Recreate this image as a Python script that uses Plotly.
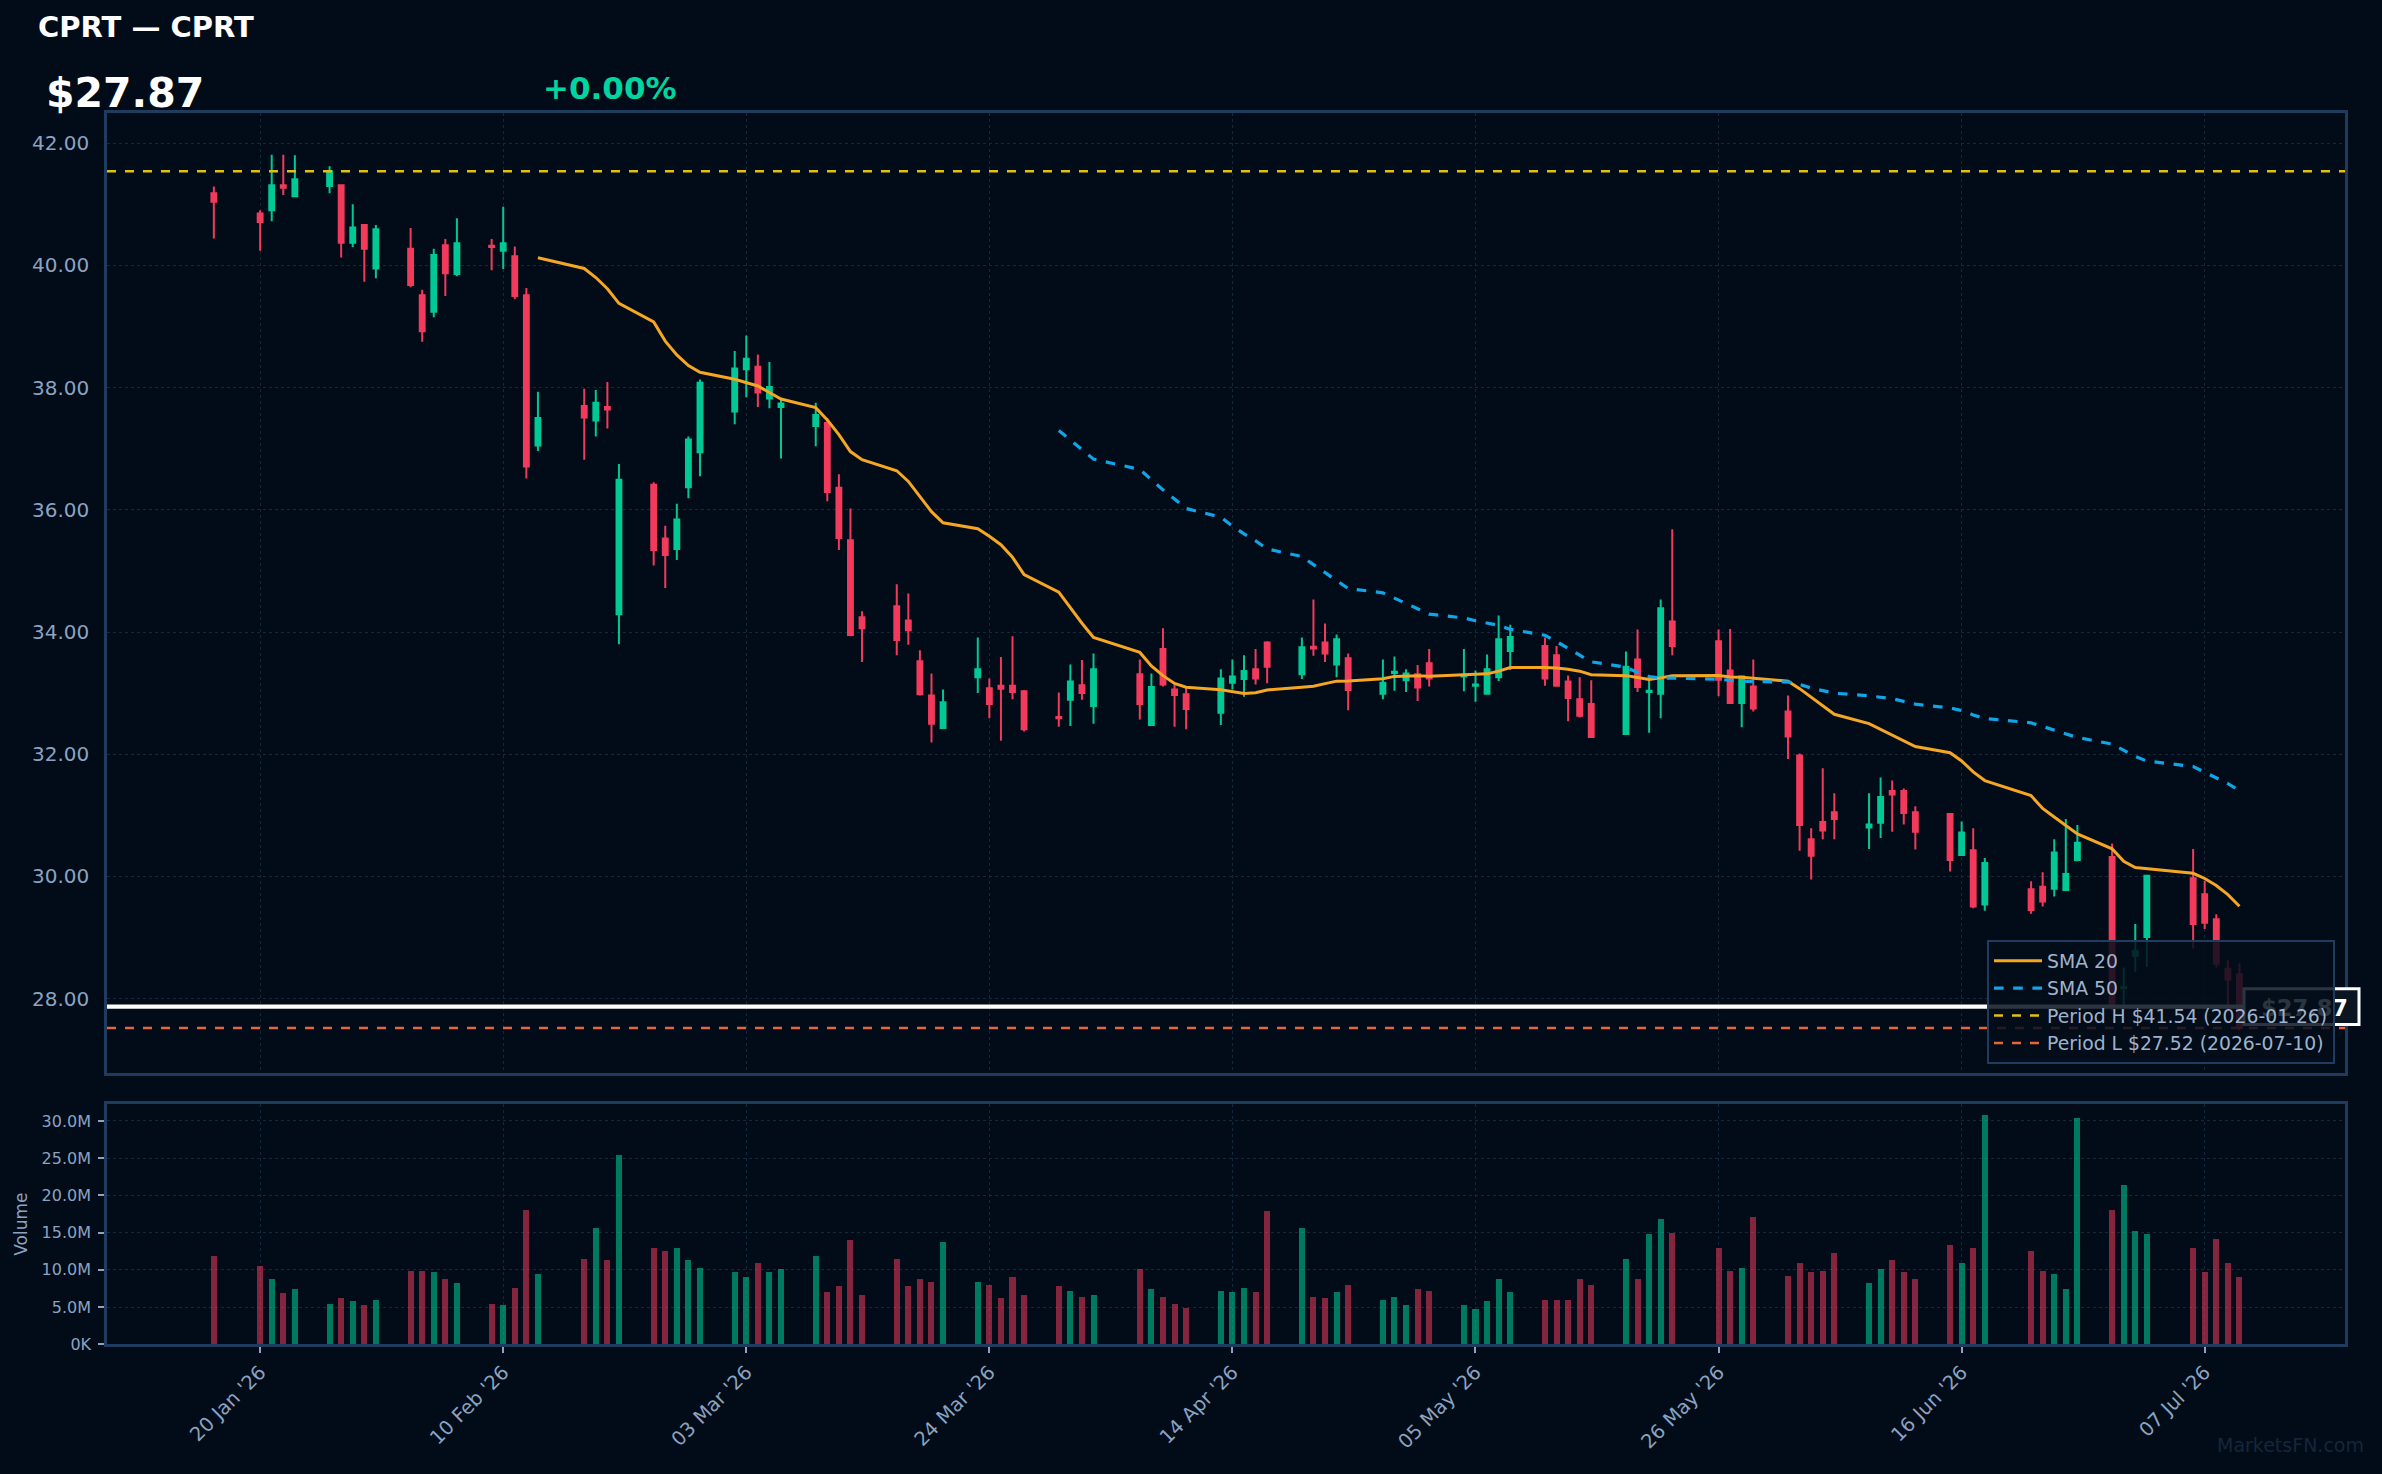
import plotly.graph_objects as go
import pandas as pd

# ---------------- data ----------------
dates = [
    "2026-01-16", "2026-01-20", "2026-01-21", "2026-01-22", "2026-01-23",
    "2026-01-26", "2026-01-27", "2026-01-28", "2026-01-29", "2026-01-30",
    "2026-02-02", "2026-02-03", "2026-02-04", "2026-02-05", "2026-02-06",
    "2026-02-09", "2026-02-10", "2026-02-11", "2026-02-12", "2026-02-13",
    "2026-02-17", "2026-02-18", "2026-02-19", "2026-02-20",
    "2026-02-23", "2026-02-24", "2026-02-25", "2026-02-26", "2026-02-27",
    "2026-03-02", "2026-03-03", "2026-03-04", "2026-03-05", "2026-03-06",
    "2026-03-09", "2026-03-10", "2026-03-11", "2026-03-12", "2026-03-13",
    "2026-03-16", "2026-03-17", "2026-03-18", "2026-03-19", "2026-03-20",
    "2026-03-23", "2026-03-24", "2026-03-25", "2026-03-26", "2026-03-27",
    "2026-03-30", "2026-03-31", "2026-04-01", "2026-04-02",
    "2026-04-06", "2026-04-07", "2026-04-08", "2026-04-09", "2026-04-10",
    "2026-04-13", "2026-04-14", "2026-04-15", "2026-04-16", "2026-04-17",
    "2026-04-20", "2026-04-21", "2026-04-22", "2026-04-23", "2026-04-24",
    "2026-04-27", "2026-04-28", "2026-04-29", "2026-04-30", "2026-05-01",
    "2026-05-04", "2026-05-05", "2026-05-06", "2026-05-07", "2026-05-08",
    "2026-05-11", "2026-05-12", "2026-05-13", "2026-05-14", "2026-05-15",
    "2026-05-18", "2026-05-19", "2026-05-20", "2026-05-21", "2026-05-22",
    "2026-05-26", "2026-05-27", "2026-05-28", "2026-05-29",
    "2026-06-01", "2026-06-02", "2026-06-03", "2026-06-04", "2026-06-05",
    "2026-06-08", "2026-06-09", "2026-06-10", "2026-06-11", "2026-06-12",
    "2026-06-15", "2026-06-16", "2026-06-17", "2026-06-18",
    "2026-06-22", "2026-06-23", "2026-06-24", "2026-06-25", "2026-06-26",
    "2026-06-29", "2026-06-30", "2026-07-01", "2026-07-02",
    "2026-07-06", "2026-07-07", "2026-07-08", "2026-07-09", "2026-07-10",
]

opens = [
    41.18, 40.85, 40.90, 41.31, 41.13,
    41.30, 41.31, 40.37, 40.66, 39.95,
    40.27, 39.51, 39.24, 40.33, 39.86,
    40.32, 40.24, 40.15, 39.51, 37.05,
    37.70, 37.46, 37.68, 34.29,
    36.41, 35.53, 35.36, 36.37, 36.94,
    37.61, 38.30, 38.34, 37.82, 37.68,
    37.37, 37.42, 36.36, 35.50, 34.24,
    34.42, 34.19, 33.52, 32.96, 32.43,
    33.26, 33.08, 33.12, 33.12, 33.03,
    32.61, 32.89, 33.13, 32.79,
    33.31, 32.48, 33.72, 33.06, 32.98,
    32.68, 33.17, 33.23, 33.39, 33.83,
    33.31, 33.76, 33.83, 33.47, 33.57,
    32.99, 33.33, 33.21, 33.31, 33.49,
    33.27, 33.12, 32.99, 33.26, 33.69,
    33.77, 33.62, 33.19, 32.90, 32.82,
    32.33, 33.55, 33.02, 32.99, 34.17,
    33.85, 33.37, 32.84, 33.11,
    32.70, 31.98, 30.61, 30.89, 31.05,
    30.80, 30.88, 31.40, 31.40, 31.05,
    31.02, 30.35, 30.43, 29.54,
    29.79, 29.83, 29.80, 29.78, 30.27,
    30.32, 28.17, 28.70, 29.01,
    29.97, 29.71, 29.30, 28.49, 28.40,
]

highs = [
    41.29, 40.90, 41.81, 41.81, 41.80,
    41.62, 41.32, 41.00, 40.67, 40.66,
    40.61, 39.60, 40.27, 40.43, 40.77,
    40.43, 40.96, 40.31, 39.63, 37.93,
    37.98, 37.96, 38.09, 36.75,
    36.45, 35.74, 36.10, 37.20, 38.13,
    38.60, 38.85, 38.54, 38.42, 37.80,
    37.75, 37.50, 36.58, 36.02, 34.34,
    34.78, 34.63, 33.70, 33.32, 33.06,
    33.91, 33.24, 33.59, 33.93, 33.05,
    33.01, 33.47, 33.54, 33.65,
    33.55, 33.32, 34.06, 33.14, 33.09,
    33.39, 33.55, 33.62, 33.72, 33.85,
    33.91, 34.53, 34.14, 33.96, 33.65,
    33.55, 33.60, 33.39, 33.46, 33.72,
    33.72, 33.37, 33.63, 34.27, 34.12,
    33.91, 33.77, 33.29, 33.26, 33.21,
    33.68, 34.04, 33.23, 34.53, 35.68,
    34.04, 34.05, 33.28, 33.55,
    32.96, 32.01, 30.79, 31.77, 31.36,
    31.36, 31.62, 31.57, 31.44, 31.15,
    31.03, 30.90, 30.79, 30.30,
    29.92, 30.07, 30.61, 30.94, 30.84,
    30.54, 28.51, 29.22, 30.02,
    30.45, 29.93, 29.38, 28.63, 28.58,
]

lows = [
    40.44, 40.24, 40.72, 41.15, 41.12,
    41.18, 40.13, 40.30, 39.73, 39.79,
    39.64, 38.75, 39.15, 39.50, 39.82,
    39.92, 39.94, 39.45, 36.51, 36.96,
    36.82, 37.20, 37.33, 33.80,
    35.09, 34.72, 35.18, 36.19, 36.55,
    37.40, 37.84, 37.68, 37.66, 36.84,
    37.04, 36.14, 35.34, 33.93, 33.51,
    33.62, 33.79, 32.96, 32.19, 32.42,
    33.00, 32.59, 32.22, 32.90, 32.37,
    32.45, 32.46, 32.89, 32.50,
    32.57, 32.47, 33.11, 32.45, 32.41,
    32.48, 33.06, 32.94, 33.14, 33.16,
    33.23, 33.61, 33.51, 33.26, 32.72,
    32.90, 33.04, 33.02, 32.87, 33.11,
    33.03, 32.86, 32.99, 33.20, 33.38,
    33.12, 33.12, 32.54, 32.60, 32.27,
    32.32, 33.02, 32.35, 32.59, 33.62,
    32.95, 32.83, 32.44, 32.70,
    31.92, 30.42, 29.95, 30.61, 30.61,
    30.45, 30.63, 30.73, 30.85, 30.44,
    30.08, 30.34, 29.48, 29.44,
    29.39, 29.51, 29.67, 29.78, 30.25,
    27.80, 27.89, 28.44, 28.52,
    28.82, 29.14, 28.51, 27.78, 27.48,
]

closes = [
    41.04, 40.71, 41.31, 41.27, 41.41,
    41.54, 40.37, 40.62, 40.27, 40.59,
    39.68, 38.92, 40.17, 39.87, 40.36,
    40.30, 40.36, 39.50, 36.71, 37.50,
    37.51, 37.75, 37.64, 36.49,
    35.34, 35.26, 35.84, 37.15, 38.08,
    38.31, 38.47, 37.92, 38.01, 37.74,
    37.55, 36.29, 35.54, 33.95, 34.06,
    33.87, 34.03, 32.98, 32.50, 32.85,
    33.39, 32.82, 33.07, 33.02, 32.41,
    32.59, 33.19, 33.00, 33.39,
    32.82, 33.10, 33.14, 32.97, 32.74,
    33.24, 33.27, 33.36, 33.24, 33.43,
    33.75, 33.73, 33.65, 33.88, 33.05,
    33.17, 33.35, 33.32, 33.09, 33.24,
    33.29, 33.14, 33.39, 33.88, 33.92,
    33.24, 33.12, 32.92, 32.63, 32.28,
    33.43, 33.10, 33.04, 34.39, 33.77,
    33.22, 32.84, 33.27, 32.75,
    32.29, 30.84, 30.34, 30.75, 30.94,
    30.85, 31.30, 31.34, 31.04, 30.73,
    30.27, 30.72, 29.51, 30.22,
    29.45, 29.59, 30.39, 30.04, 30.55,
    27.89, 28.19, 28.78, 30.01,
    29.22, 29.24, 28.57, 28.31, 27.52,
]

volumes_m = [
    11.9, 10.57, 8.82, 6.94, 7.48,
    5.47, 6.27, 5.87, 5.33, 6.0,
    9.9, 9.9, 9.7, 8.8, 8.2,
    5.5, 5.3, 7.6, 18.1, 9.4,
    11.5, 15.6, 11.3, 25.5,
    12.9, 12.5, 12.9, 11.3, 10.3,
    9.7, 9.0, 10.9, 9.7, 10.1,
    11.9, 7.0, 7.8, 14.0, 6.6,
    11.5, 7.8, 8.8, 8.4, 13.8,
    8.4, 8.0, 6.2, 9.0, 6.6,
    7.8, 7.2, 6.4, 6.6,
    10.1, 7.4, 6.4, 5.5, 4.9,
    7.2, 7.0, 7.6, 7.0, 17.9,
    15.6, 6.4, 6.2, 7.0, 8.0,
    6.0, 6.4, 5.3, 7.4, 7.2,
    5.3, 4.7, 5.8, 8.8, 7.0,
    6.0, 6.0, 6.0, 8.8, 8.0,
    11.5, 8.8, 14.8, 16.8, 15.0,
    12.9, 9.9, 10.3, 17.1,
    9.2, 10.9, 9.7, 9.9, 12.3,
    8.2, 10.1, 11.3, 9.7, 8.8,
    13.4, 10.9, 12.9, 30.8,
    12.5, 9.9, 9.4, 7.4, 30.4,
    18.1, 21.4, 15.2, 14.8,
    12.9, 9.7, 14.2, 10.9, 9.0,
]

tick_dates = ["2026-01-20", "2026-02-10", "2026-03-03", "2026-03-24", "2026-04-14",
              "2026-05-05", "2026-05-26", "2026-06-16", "2026-07-07"]
tick_labels = ["20 Jan '26", "10 Feb '26", "03 Mar '26", "24 Mar '26", "14 Apr '26",
               "05 May '26", "26 May '26", "16 Jun '26", "07 Jul '26"]

price_ticks = [28, 30, 32, 34, 36, 38, 40, 42]
vol_ticks_m = [0, 5, 10, 15, 20, 25, 30]
vol_tick_labels = ["0K", "5.0M", "10.0M", "15.0M", "20.0M", "25.0M", "30.0M"]

ticker = "CPRT"
last_price = 27.87
change_pct = 0.00
period_high = 41.54
period_high_date = "2026-01-26"
period_low = 27.52
period_low_date = "2026-07-10"

x_range = ["2026-01-06 18:29", "2026-07-19 02:53"]
price_range = [26.785, 42.495]
vol_range_m = [0, 32.3]

# ---------------- styling ----------------
BG = "#010c18"
UP = "#00c896"
DOWN = "#f23a5c"
UP_VOL = "rgba(0,200,150,0.58)"
DOWN_VOL = "rgba(242,58,92,0.55)"
SPINE = "#1f3b5e"
GRID = "#14283c"
TICK = "#8ba3c1"
FONT = "DejaVu Sans"
W, H = 2382, 1474
SY = 1.0058  # vertical layout correction


def py(y_px):
    """paper y from a pixel row measured from the top"""
    return 1 - (y_px * SY) / H


PRICE_TOP_PX, PRICE_BOT_PX = 113, 1074
price_px_per_unit = (PRICE_BOT_PX - PRICE_TOP_PX) * SY / (price_range[1] - price_range[0])
TAG_HALF_PX = 18
tag_half = TAG_HALF_PX / price_px_per_unit

df = pd.DataFrame({"date": pd.to_datetime(dates), "open": opens, "high": highs,
                   "low": lows, "close": closes, "vol": volumes_m})
df["sma20"] = df["close"].rolling(20).mean()
df["sma50"] = df["close"].rolling(50).mean()
vol_colors = [UP_VOL if c >= o else DOWN_VOL for o, c in zip(df["open"], df["close"])]

fig = go.Figure()

fig.add_trace(go.Candlestick(
    x=df["date"], open=df["open"], high=df["high"], low=df["low"], close=df["close"],
    increasing=dict(line=dict(color=UP, width=2), fillcolor=UP),
    decreasing=dict(line=dict(color=DOWN, width=2), fillcolor=DOWN),
    whiskerwidth=0, showlegend=False, hoverinfo="skip", xaxis="x", yaxis="y",
))

fig.add_trace(go.Scatter(x=df["date"], y=df["sma20"], mode="lines", name="SMA 20",
                         line=dict(color="#f5a623", width=3), xaxis="x", yaxis="y"))
fig.add_trace(go.Scatter(x=df["date"], y=df["sma50"], mode="lines", name="SMA 50",
                         line=dict(color="#0ea5e9", width=3.2, dash="dash"), xaxis="x", yaxis="y"))
fig.add_trace(go.Scatter(x=x_range, y=[period_high, period_high], mode="lines",
                         name=f"Period H ${period_high:.2f} ({period_high_date})",
                         line=dict(color="#e0c010", width=2.4, dash="dash"), xaxis="x", yaxis="y"))
fig.add_trace(go.Scatter(x=x_range, y=[period_low, period_low], mode="lines",
                         name=f"Period L ${period_low:.2f} ({period_low_date})",
                         line=dict(color="#e8643a", width=2.4, dash="dash"), xaxis="x", yaxis="y"))
fig.add_trace(go.Scatter(x=x_range, y=[last_price, last_price], mode="lines", showlegend=False,
                         line=dict(color="#ffffff", width=4.3), xaxis="x", yaxis="y", hoverinfo="skip"))

fig.add_trace(go.Bar(x=df["date"], y=df["vol"] * 1e6, marker=dict(color=vol_colors, line=dict(width=0)),
                     width=0.52 * 86400000, showlegend=False, xaxis="x2", yaxis="y2", hoverinfo="skip"))

xdom = [107 / W, 2345 / W]
axis_common = dict(showline=True, linecolor=SPINE, linewidth=2.5, mirror=True,
                   gridcolor=GRID, griddash="dot", gridwidth=1, zeroline=False)

fig.update_layout(
    width=W, height=H, paper_bgcolor=BG, plot_bgcolor=BG,
    margin=dict(l=0, r=0, t=0, b=0),
    font=dict(family=FONT, color=TICK),
    boxgap=0.4,
    bargap=0,
    xaxis=dict(domain=xdom, range=x_range, type="date", anchor="y",
               tickvals=tick_dates, ticktext=tick_labels, showticklabels=False,
               ticks="", rangeslider=dict(visible=False), **axis_common),
    yaxis=dict(domain=[py(PRICE_BOT_PX), py(PRICE_TOP_PX)], range=price_range, anchor="x",
               tickvals=price_ticks, ticktext=[f"{v:.2f}" for v in price_ticks],
               ticks="outside", ticklen=7, tickwidth=2, tickcolor="#050a10",
               tickfont=dict(size=20, color=TICK), ticklabelstandoff=4, **axis_common),
    xaxis2=dict(domain=xdom, range=x_range, type="date", anchor="y2", matches="x",
                tickvals=tick_dates, ticktext=tick_labels, tickangle=-45,
                ticks="outside", ticklen=6, tickwidth=2, tickcolor=TICK,
                tickfont=dict(size=19.5, color=TICK), **axis_common),
    yaxis2=dict(domain=[py(1345.7), py(1105)], range=[v * 1e6 for v in vol_range_m], anchor="x2",
                tickvals=[v * 1e6 for v in vol_ticks_m], ticktext=vol_tick_labels,
                ticks="outside", ticklen=6, tickwidth=2, tickcolor=TICK,
                tickfont=dict(size=16, color=TICK), ticklabelstandoff=4,
                title=dict(text="Volume", font=dict(size=17, color=TICK), standoff=10),
                **axis_common),
    legend=dict(x=2335 / W, xanchor="right", y=py(1065), yanchor="bottom",
                bgcolor="rgba(3,13,26,0.84)", bordercolor=SPINE, borderwidth=2,
                font=dict(size=18.8, color="#9fb3cc", family=FONT),
                itemwidth=48, tracegroupgap=0),
    showlegend=True,
)

# current price tag (drawn as a shape so the legend sits above it)
fig.add_shape(type="rect", xref="paper", x0=2244 / W, x1=2359 / W,
              yref="y", y0=last_price - tag_half, y1=last_price + tag_half,
              line=dict(color="#ffffff", width=3), fillcolor="#0a1522", layer="above",
              label=dict(text=f"<b>${last_price:.2f}</b>", font=dict(size=22.5, color="#ffffff", family=FONT),
                         textposition="middle right", padding=8))

annotations = [
    dict(text=f"<b>{ticker} — {ticker}</b>", x=36 / W, y=py(27), xref="paper", yref="paper",
         xanchor="left", yanchor="middle", showarrow=False, font=dict(size=29, color="#ffffff")),
    dict(text=f"<b>${last_price:.2f}</b>", x=44 / W, y=py(93), xref="paper", yref="paper",
         xanchor="left", yanchor="middle", showarrow=False, font=dict(size=41, color="#ffffff")),
    dict(text=f"<b>+{change_pct:.2f}%</b>", x=541 / W, y=py(88), xref="paper", yref="paper",
         xanchor="left", yanchor="middle", showarrow=False, font=dict(size=31, color="#00d4a0")),
    dict(text="MarketsFN.com", x=2366 / W, y=py(1446), xref="paper", yref="paper",
         xanchor="right", yanchor="middle", showarrow=False, font=dict(size=19, color="#16263a")),
]
fig.update_layout(annotations=annotations)

fig.write_html("out.html")
